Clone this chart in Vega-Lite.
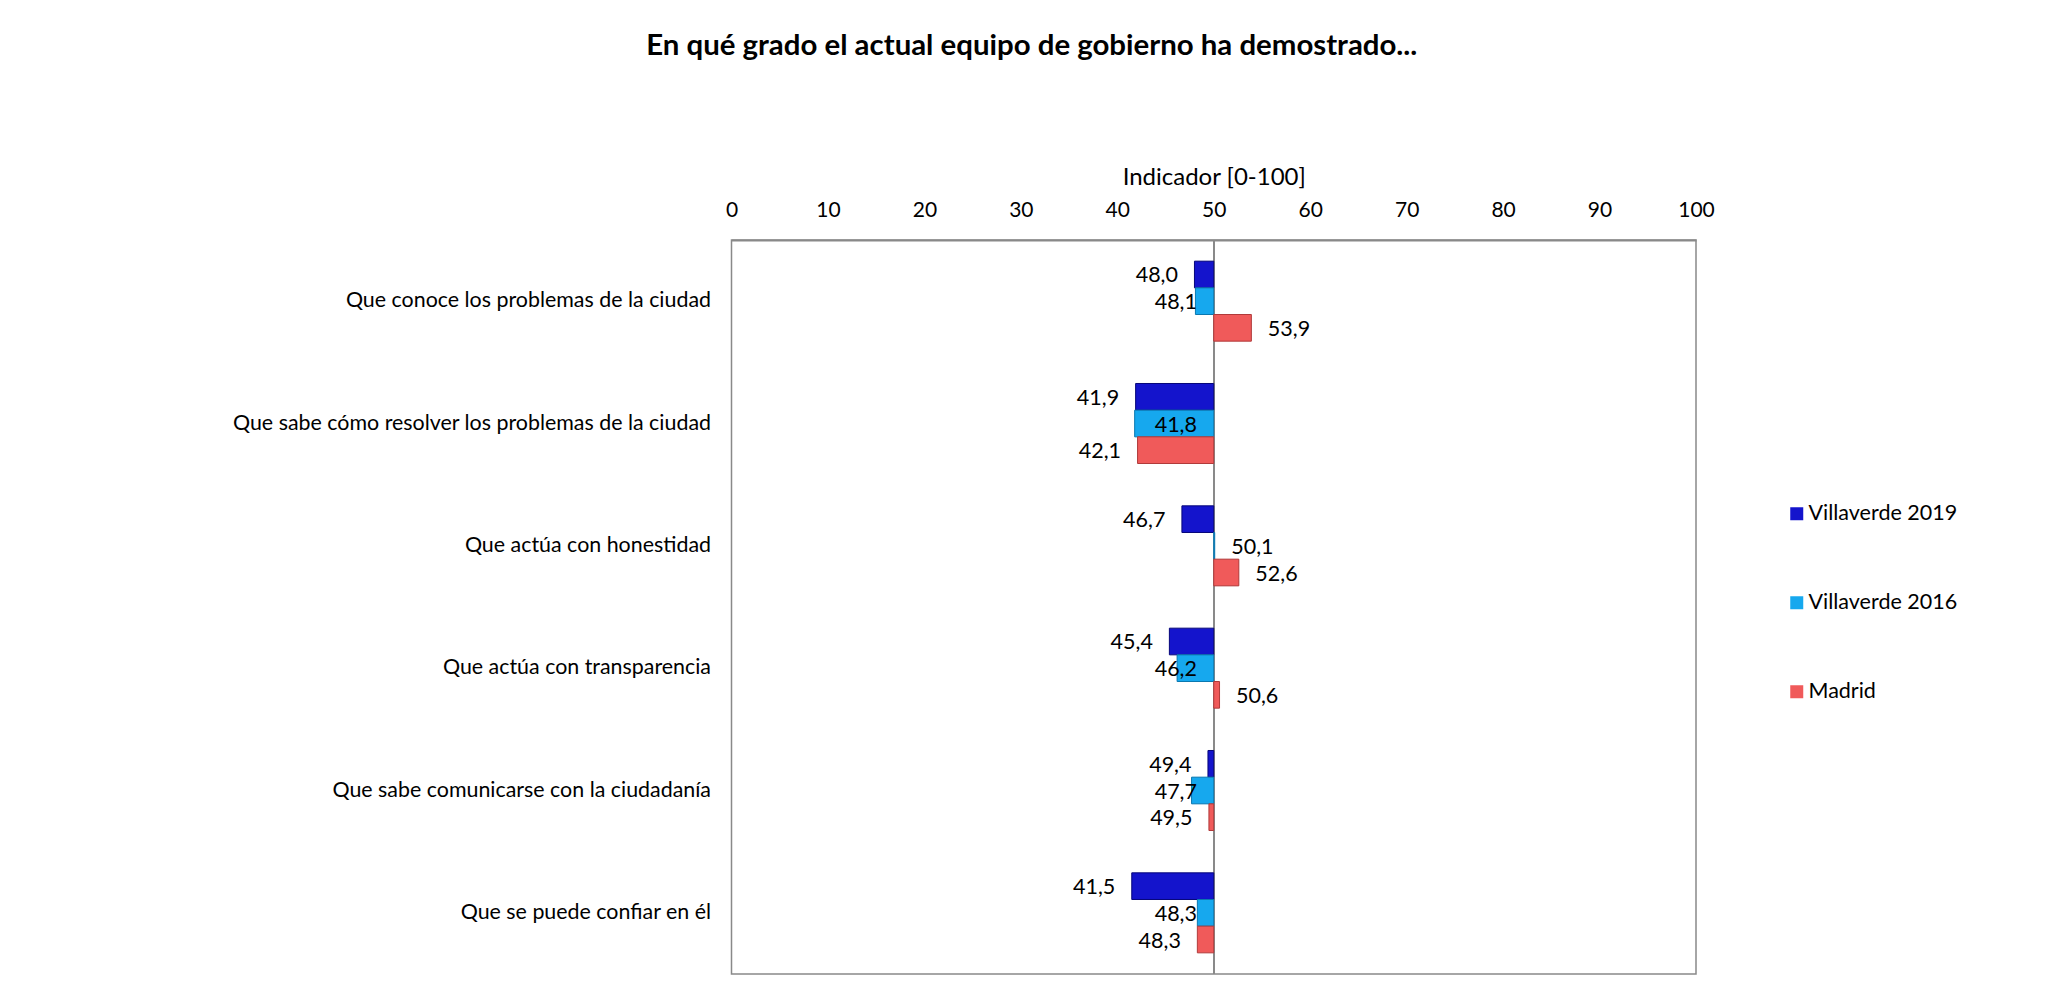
{
  "$schema": "https://vega.github.io/schema/vega-lite/v6.json",
  "width": 964.5,
  "height": 734,
  "autosize": {"type": "none"},
  "padding": {"left": 731.5, "top": 240, "right": 353, "bottom": 12},
  "title": {
    "text": "En qué grado el actual equipo de gobierno ha demostrado...",
    "font": "Lato",
    "fontSize": 29.4,
    "fontWeight": "bold",
    "color": "#000000",
    "anchor": "middle",
    "dx": -182,
    "offset": 104
  },
  "data": {
    "values": [
      {"cat": "Que conoce los problemas de la ciudad", "serie": "Villaverde 2019", "value": 48.0},
      {"cat": "Que conoce los problemas de la ciudad", "serie": "Villaverde 2016", "value": 48.1},
      {"cat": "Que conoce los problemas de la ciudad", "serie": "Madrid", "value": 53.9},
      {"cat": "Que sabe cómo resolver los problemas de la ciudad", "serie": "Villaverde 2019", "value": 41.9},
      {"cat": "Que sabe cómo resolver los problemas de la ciudad", "serie": "Villaverde 2016", "value": 41.8},
      {"cat": "Que sabe cómo resolver los problemas de la ciudad", "serie": "Madrid", "value": 42.1},
      {"cat": "Que actúa con honestidad", "serie": "Villaverde 2019", "value": 46.7},
      {"cat": "Que actúa con honestidad", "serie": "Villaverde 2016", "value": 50.1},
      {"cat": "Que actúa con honestidad", "serie": "Madrid", "value": 52.6},
      {"cat": "Que actúa con transparencia", "serie": "Villaverde 2019", "value": 45.4},
      {"cat": "Que actúa con transparencia", "serie": "Villaverde 2016", "value": 46.2},
      {"cat": "Que actúa con transparencia", "serie": "Madrid", "value": 50.6},
      {"cat": "Que sabe comunicarse con la ciudadanía", "serie": "Villaverde 2019", "value": 49.4},
      {"cat": "Que sabe comunicarse con la ciudadanía", "serie": "Villaverde 2016", "value": 47.7},
      {"cat": "Que sabe comunicarse con la ciudadanía", "serie": "Madrid", "value": 49.5},
      {"cat": "Que se puede confiar en él", "serie": "Villaverde 2019", "value": 41.5},
      {"cat": "Que se puede confiar en él", "serie": "Villaverde 2016", "value": 48.3},
      {"cat": "Que se puede confiar en él", "serie": "Madrid", "value": 48.3}
    ]
  },
  "layer": [
    {
      "mark": {"type": "rule", "color": "#898989", "strokeWidth": 1.5},
      "encoding": {
        "x": {"datum": 50, "type": "quantitative", "scale": {"domain": [0, 100], "nice": false}}
      }
    },
    {
      "mark": {"type": "bar", "strokeWidth": 1},
      "encoding": {
        "y": {
          "field": "cat", "type": "nominal", "sort": null,
          "scale": {"paddingInner": 0.346, "paddingOuter": 0.173},
          "axis": {"title": null, "ticks": false, "domain": false, "labelPadding": 21, "labelFontSize": 21.4, "labelColor": "#000000", "labelFont": "Lato", "labelLimit": 0}
        },
        "yOffset": {
          "field": "serie", "type": "nominal",
          "sort": ["Villaverde 2019", "Villaverde 2016", "Madrid"],
          "scale": {"paddingInner": 0, "paddingOuter": 0}
        },
        "x": {
          "field": "value", "type": "quantitative",
          "scale": {"domain": [0, 100], "nice": false},
          "axis": {
            "orient": "top", "values": [0, 10, 20, 30, 40, 50, 60, 70, 80, 90, 100],
            "title": "Indicador [0-100]", "titleFontSize": 24, "titleFont": "Lato", "titleFontWeight": "normal", "titleColor": "#000000", "titlePadding": 10,
            "labelFontSize": 21, "labelFont": "Lato", "labelColor": "#000000", "labelPadding": 20, "labelFlush": false,
            "ticks": false, "tickSize": 0, "grid": false, "domain": true, "domainColor": "#898989", "domainWidth": 2, "format": "d"
          }
        },
        "x2": {"datum": 50},
        "color": {
          "field": "serie", "type": "nominal",
          "scale": {"domain": ["Villaverde 2019", "Villaverde 2016", "Madrid"], "range": ["#1414cc", "#16a8ee", "#f05a5a"]},
          "legend": {
            "orient": "none", "legendX": 1054.5, "legendY": 263, "title": null,
            "symbolType": "square", "symbolSize": 169, "symbolStrokeWidth": 0,
            "labelFontSize": 21.5, "labelFont": "Lato", "labelColor": "#000000", "labelOffset": 1, "rowPadding": 66
          }
        },
        "stroke": {
          "field": "serie", "type": "nominal",
          "scale": {"domain": ["Villaverde 2019", "Villaverde 2016", "Madrid"], "range": ["#06067a", "#0a78b0", "#b03a3a"]},
          "legend": null
        }
      }
    },
    {
      "transform": [{"filter": "datum.value < 50 && datum.serie != 'Villaverde 2016'"}],
      "mark": {"type": "text", "align": "right", "baseline": "middle", "dx": -16.5, "dy": 2, "fontSize": 21.5, "font": "Lato", "color": "#000000"},
      "encoding": {
        "y": {"field": "cat", "type": "nominal", "sort": null},
        "yOffset": {"field": "serie", "type": "nominal", "sort": ["Villaverde 2019", "Villaverde 2016", "Madrid"]},
        "x": {"field": "value", "type": "quantitative"},
        "text": {"field": "value", "type": "quantitative", "format": ".1f"}
      }
    },
    {
      "transform": [{"filter": "datum.value >= 50"}],
      "mark": {"type": "text", "align": "left", "baseline": "middle", "dx": 16.5, "dy": 2, "fontSize": 21.5, "font": "Lato", "color": "#000000"},
      "encoding": {
        "y": {"field": "cat", "type": "nominal", "sort": null},
        "yOffset": {"field": "serie", "type": "nominal", "sort": ["Villaverde 2019", "Villaverde 2016", "Madrid"]},
        "x": {"field": "value", "type": "quantitative"},
        "text": {"field": "value", "type": "quantitative", "format": ".1f"}
      }
    },
    {
      "transform": [{"filter": "datum.value < 50 && datum.serie == 'Villaverde 2016'"}],
      "mark": {"type": "text", "align": "right", "baseline": "middle", "dy": 2, "fontSize": 21.5, "font": "Lato", "color": "#000000"},
      "encoding": {
        "y": {"field": "cat", "type": "nominal", "sort": null},
        "yOffset": {"field": "serie", "type": "nominal", "sort": ["Villaverde 2019", "Villaverde 2016", "Madrid"]},
        "x": {"datum": 48.26, "type": "quantitative"},
        "text": {"field": "value", "type": "quantitative", "format": ".1f"}
      }
    }
  ],
  "config": {
    "font": "Lato",
    "background": "#ffffff",
    "view": {"stroke": "#898989", "strokeWidth": 1.5},
    "locale": {"number": {"decimal": ",", "thousands": ".", "grouping": [3], "currency": ["", " €"]}}
  }
}
